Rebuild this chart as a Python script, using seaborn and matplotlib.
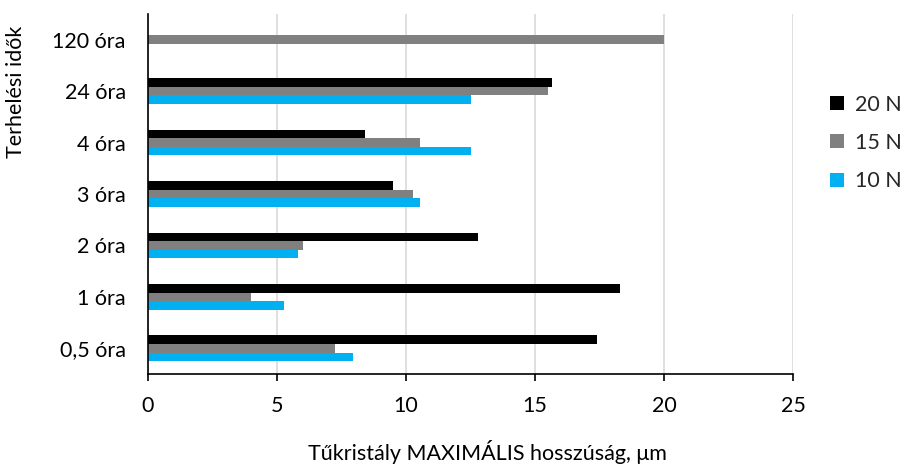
import matplotlib
matplotlib.use("Agg")
import matplotlib.pyplot as plt
from matplotlib.lines import Line2D
import numpy as np
import pandas as pd
import seaborn as sns

# Loading times (top to bottom) and maximum needle-crystal lengths per load
categories = ["120 óra", "24 óra", "4 óra", "3 óra", "2 óra", "1 óra", "0,5 óra"]
series_names = ["20 N", "15 N", "10 N"]
vals_20N = [np.nan, 15.67, 8.43, 9.48, 12.80, 18.28, 17.41]
vals_15N = [20.0, 15.49, 10.53, 10.27, 6.01, 4.00, 7.25]
vals_10N = [np.nan, 12.51, 12.51, 10.53, 5.81, 5.26, 7.93]
x_ticks = [0, 5, 10, 15, 20, 25]

colors = {"20 N": "#000000", "15 N": "#808080", "10 N": "#00B0F0"}

df = pd.DataFrame({
    "kat": categories * 3,
    "terheles": [s for s in series_names for _ in categories],
    "hossz": vals_20N + vals_15N + vals_10N,
}).dropna()

sns.set_theme(style="white")
plt.rcParams["font.family"] = ["Lato", "DejaVu Sans"]
FS = 15.5

fig = plt.figure(figsize=(9.01, 4.68), dpi=100)
ax = fig.add_axes([148 / 901, 1 - 374 / 468, (793 - 148) / 901, (374 - 14) / 468])

sns.barplot(data=df, x="hossz", y="kat", hue="terheles", order=categories,
            hue_order=series_names, palette=colors, orient="h", width=0.5,
            linewidth=0, saturation=1, legend=False, ax=ax)

ax.set_xlim(0, 25)
ax.set_ylim(6.5, -0.5)
ax.set_xticks(x_ticks)
ax.set_xticklabels([str(t) for t in x_ticks])
ax.grid(axis="x", color="#D9D9D9", linewidth=1.2)
ax.set_axisbelow(True)
for side in ("top", "right"):
    ax.spines[side].set_visible(False)
for side in ("left", "bottom"):
    ax.spines[side].set_color("black")
    ax.spines[side].set_linewidth(1.2)
ax.tick_params(axis="x", length=5, width=1.2, color="black", pad=11,
               labelsize=FS, labelcolor="black", bottom=True)
ax.tick_params(axis="y", length=0, pad=16, labelsize=FS, labelcolor="black")
ax.set_xlabel("")
ax.set_ylabel("")

fig.text(487 / 901, 1 - 452 / 468, "Tűkristály MAXIMÁLIS hosszúság, μm",
         ha="center", va="center", fontsize=FS, color="black")
fig.text(16 / 901, 1 - 92 / 468, "Terhelési idők", rotation=90,
         ha="center", va="center", fontsize=FS, color="black")

handles = [Line2D([], [], marker="s", linestyle="none", markersize=10,
                  markerfacecolor=colors[s], markeredgewidth=0) for s in series_names]
fig.legend(handles, series_names, loc="center left",
           bbox_to_anchor=(828 / 901, 1 - 143 / 468), frameon=False,
           fontsize=FS, labelspacing=0.85, handlelength=0.8, handletextpad=0.45,
           borderpad=0, borderaxespad=0)

fig.savefig("out.png", dpi=100)
